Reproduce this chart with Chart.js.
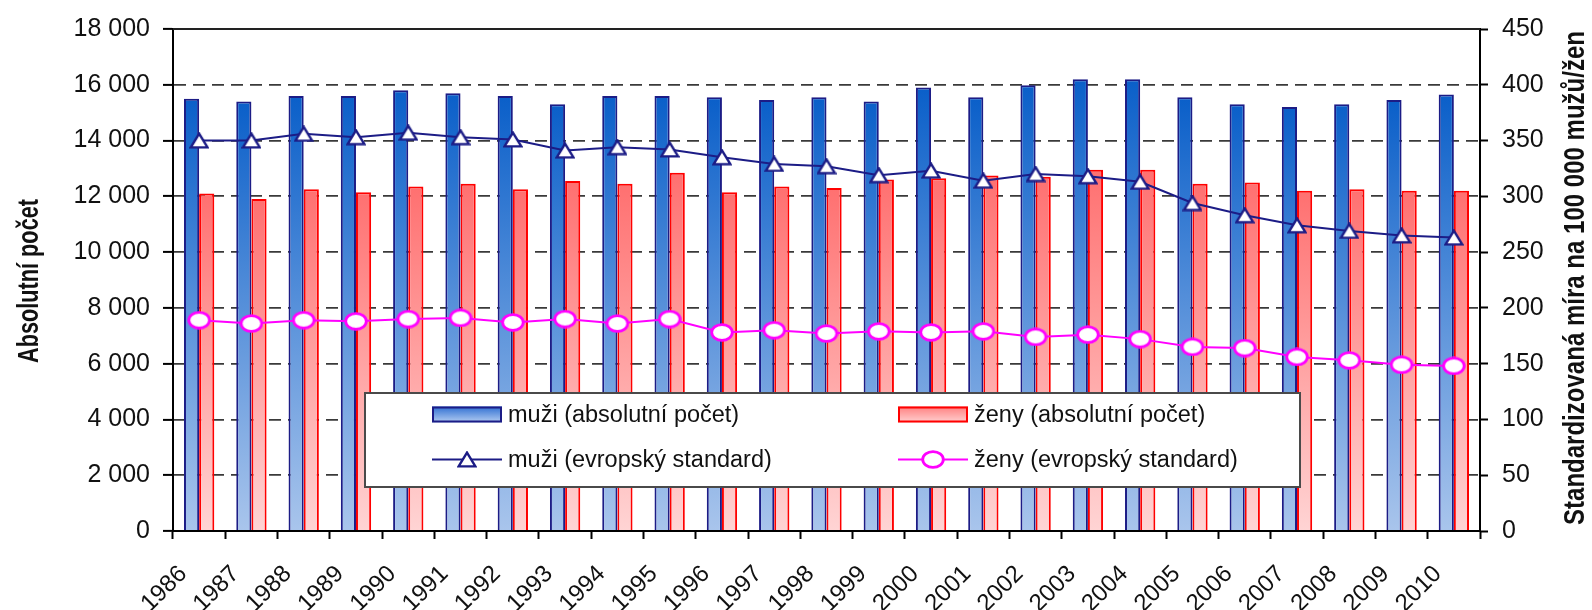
<!DOCTYPE html>
<html lang="cs">
<head>
<meta charset="utf-8">
<title>Úmrtnost – absolutní počet a standardizovaná míra</title>
<script src="https://cdn.jsdelivr.net/npm/chart.js@4.4.1/dist/chart.umd.min.js"></script>
<style>
  html, body { margin: 0; padding: 0; background: #fff; }
  #wrap { width: 1592px; height: 610px; position: relative; }
</style>
</head>
<body>
<div id="wrap"><canvas id="chart" width="1592" height="610"></canvas></div>
<script>
// Categories
const years = ['1986','1987','1988','1989','1990','1991','1992','1993','1994','1995','1996','1997',
               '1998','1999','2000','2001','2002','2003','2004','2005','2006','2007','2008','2009','2010'];

// Absolute counts (left axis)
const menAbsolute   = [15500,15400,15600,15600,15800,15700,15600,15300,15600,15600,15550,15450,
                       15550,15400,15900,15550,15980,16200,16200,15550,15300,15200,15300,15450,15650];
const womenAbsolute = [12100,11900,12250,12150,12350,12450,12250,12550,12450,12850,12150,12350,
                       12300,12600,12650,12750,12700,12950,12950,12450,12500,12200,12250,12200,12200];

// European standardised rate per 100 000 (right axis)
const menStandard   = [350,350,356,353,357,353,351,341,344,342,335,329,327,319,323,314,320,318,313,
                       294,283,274,269,265,263];
const womenStandard = [189,186,189,188,190,191,187,190,186,190,178,180,177,179,178,179,174,176,172,
                       165,164,156,153,149,148];

// Axis ranges / tick steps
const leftAxis  = { min: 0, max: 18000, step: 2000 };
const rightAxis = { min: 0, max: 450, step: 50 };

// Texts
const seriesLabels = ['muži (absolutní počet)', 'ženy (absolutní počet)',
                      'muži (evropský standard)', 'ženy (evropský standard)'];
const leftTitle  = 'Absolutní počet';
const rightTitle = 'Standardizovaná míra na 100 000 mužů/žen';

// ---- styling ----
const FONT = '"Liberation Sans", Arial, Helvetica, sans-serif';
const TEXT = '#111';
const NAVY = '#1c1c86';
const MAGENTA = '#ff00ff';

function markerTriangle() {
  const c = document.createElement('canvas');
  c.width = 20; c.height = 17;
  const g = c.getContext('2d');
  g.beginPath();
  g.moveTo(10, 1.6);
  g.lineTo(18.4, 15.4);
  g.lineTo(1.6, 15.4);
  g.closePath();
  g.fillStyle = '#fff';
  g.fill();
  g.lineWidth = 2.4;
  g.lineJoin = 'miter';
  g.strokeStyle = NAVY;
  g.stroke();
  return c;
}
function markerEllipse() {
  const c = document.createElement('canvas');
  c.width = 24; c.height = 19;
  const g = c.getContext('2d');
  g.beginPath();
  g.ellipse(12, 9.5, 10.3, 7.8, 0, 0, Math.PI * 2);
  g.fillStyle = '#fff';
  g.fill();
  g.lineWidth = 2.8;
  g.strokeStyle = MAGENTA;
  g.stroke();
  return c;
}
const triMarker = markerTriangle();
const ellMarker = markerEllipse();

// vertical gradient running over each bar from its top down to the zero line
function barFill(topColor, bottomColor) {
  return (ctx) => {
    const chart = ctx.chart;
    if (!chart.chartArea || ctx.type !== 'data') return bottomColor;
    const ys = chart.scales.y;
    const y0 = ys.getPixelForValue(ctx.raw);
    const y1 = ys.getPixelForValue(0);
    const g = chart.ctx.createLinearGradient(0, y0, 0, y1);
    g.addColorStop(0, topColor);
    g.addColorStop(1, bottomColor);
    return g;
  };
}
const BLUE_TOP = '#0a5fc9', BLUE_BOTTOM = '#a9c5ec';
const RED_TOP = '#ff7070', RED_BOTTOM = '#ffd4d4';

const spaceThousands = (v) => String(v).replace(/\B(?=(\d{3})+(?!\d))/g, ' ');

// top frame line of the plot area
const frameTop = {
  id: 'frameTop',
  beforeDatasetsDraw(chart) {
    const { ctx, chartArea: a } = chart;
    ctx.save();
    ctx.strokeStyle = '#222';
    ctx.lineWidth = 2;
    ctx.beginPath();
    ctx.moveTo(a.left, a.top);
    ctx.lineTo(a.right, a.top);
    ctx.stroke();
    ctx.restore();
  }
};

// condensed bold title, rotated to read bottom to top, squeezed to a given length
function drawTitle(ctx, text, cx, cy, length, size) {
  ctx.save();
  ctx.font = 'bold ' + size + 'px ' + FONT;
  const w = ctx.measureText(text).width;
  ctx.translate(cx, cy);
  ctx.rotate(-Math.PI / 2);
  ctx.scale(length / w, 1);
  ctx.fillStyle = TEXT;
  ctx.textAlign = 'center';
  ctx.textBaseline = 'middle';
  ctx.fillText(text, 0, 0);
  ctx.restore();
}

const axisTitles = {
  id: 'axisTitles',
  afterDraw(chart) {
    drawTitle(chart.ctx, leftTitle, 30, 281, 164, 29);
    drawTitle(chart.ctx, rightTitle, 1576, 278, 494, 29);
  }
};

// boxed legend inside the plot, two columns by two rows
const boxLegend = {
  id: 'boxLegend',
  afterDraw(chart) {
    const ctx = chart.ctx;
    const ds = chart.data.datasets;
    const box = { x: 365, y: 393, w: 935, h: 94 };
    ctx.save();
    ctx.fillStyle = '#fff';
    ctx.fillRect(box.x, box.y, box.w, box.h);
    ctx.strokeStyle = '#4a4a4a';
    ctx.lineWidth = 2;
    ctx.strokeRect(box.x, box.y, box.w, box.h);

    const cols = [432, 898];
    const rows = [414.5, 459.5];
    const sw = 70;
    ctx.font = '23.5px ' + FONT;
    ctx.textBaseline = 'middle';
    ctx.textAlign = 'left';

    ds.forEach((d, i) => {
      const cx = cols[i % 2];
      const cy = rows[Math.floor(i / 2)];
      if (d.type === 'bar') {
        const g = ctx.createLinearGradient(0, cy - 8, 0, cy + 8);
        g.addColorStop(0, d.legendTop);
        g.addColorStop(1, d.legendBottom);
        ctx.fillStyle = g;
        ctx.fillRect(cx, cy - 8, sw, 16);
        ctx.strokeStyle = d.borderColor;
        ctx.lineWidth = 2;
        ctx.strokeRect(cx + 1, cy - 7, sw - 2, 14);
      } else {
        ctx.strokeStyle = d.borderColor;
        ctx.lineWidth = 2;
        ctx.beginPath();
        ctx.moveTo(cx, cy);
        ctx.lineTo(cx + sw, cy);
        ctx.stroke();
        const m = d.pointStyle;
        ctx.drawImage(m, cx + sw / 2 - m.width / 2, cy - m.height / 2);
      }
      ctx.fillStyle = TEXT;
      ctx.fillText(d.label, cx + sw + 6, cy + 1);
    });
    ctx.restore();
  }
};

const tickFont = { family: FONT, size: 25 };

new Chart(document.getElementById('chart'), {
  data: {
    labels: years,
    datasets: [
      {
        type: 'bar', label: seriesLabels[0], data: menAbsolute, yAxisID: 'y', order: 2,
        backgroundColor: barFill(BLUE_TOP, BLUE_BOTTOM),
        borderColor: NAVY, borderWidth: 2,
        legendTop: '#2f6fd2', legendBottom: '#b4cdf2',
        categoryPercentage: 0.58, barPercentage: 1.0
      },
      {
        type: 'bar', label: seriesLabels[1], data: womenAbsolute, yAxisID: 'y', order: 2,
        backgroundColor: barFill(RED_TOP, RED_BOTTOM),
        borderColor: '#ff0000', borderWidth: 2,
        legendTop: '#ff8080', legendBottom: '#ffd0d0',
        categoryPercentage: 0.58, barPercentage: 1.0
      },
      {
        type: 'line', label: seriesLabels[2], data: menStandard, yAxisID: 'y2', order: 1,
        borderColor: NAVY, borderWidth: 2, pointStyle: triMarker, pointRadius: 9,
        tension: 0, fill: false
      },
      {
        type: 'line', label: seriesLabels[3], data: womenStandard, yAxisID: 'y2', order: 1,
        borderColor: MAGENTA, borderWidth: 2, pointStyle: ellMarker, pointRadius: 10,
        tension: 0, fill: false
      }
    ]
  },
  options: {
    responsive: false,
    animation: false,
    events: [],
    layout: { padding: { top: 24, left: 0, right: 0, bottom: 0 } },
    plugins: { legend: { display: false }, tooltip: { enabled: false } },
    scales: {
      x: {
        type: 'category',
        offset: true,
        grid: { offset: true, drawOnChartArea: false, drawTicks: true, tickLength: 8, tickWidth: 2, tickColor: '#000' },
        border: { display: true, color: '#000', width: 2 },
        ticks: { font: { family: FONT, size: 24 }, color: TEXT, minRotation: 45, maxRotation: 45, autoSkip: false,
                 labelOffset: -16, padding: 21 },
        afterFit: (s) => { s.height = 79; }
      },
      y: {
        position: 'left',
        min: leftAxis.min, max: leftAxis.max,
        grid: {
          color: (c) => (c.tick && (c.tick.value === leftAxis.min || c.tick.value === leftAxis.max)) ? 'rgba(0,0,0,0)' : '#3a3a3a',
          lineWidth: 1.8, tickLength: 10, tickWidth: 2, tickColor: '#000', tickBorderDash: []
        },
        border: { display: true, color: '#000', width: 2, dash: [12, 7] },
        ticks: { stepSize: leftAxis.step, font: tickFont, color: TEXT, padding: 13,
                 callback: (v) => spaceThousands(v) },
        afterFit: (s) => { s.width = 173; }
      },
      y2: {
        position: 'right',
        min: rightAxis.min, max: rightAxis.max,
        grid: { drawOnChartArea: false, tickLength: 8, tickWidth: 2, tickColor: '#000' },
        border: { display: true, color: '#000', width: 2 },
        ticks: { stepSize: rightAxis.step, font: tickFont, color: TEXT, padding: 14 },
        afterFit: (s) => { s.width = 112; }
      }
    }
  },
  plugins: [frameTop, axisTitles, boxLegend]
});
</script>
</body>
</html>
